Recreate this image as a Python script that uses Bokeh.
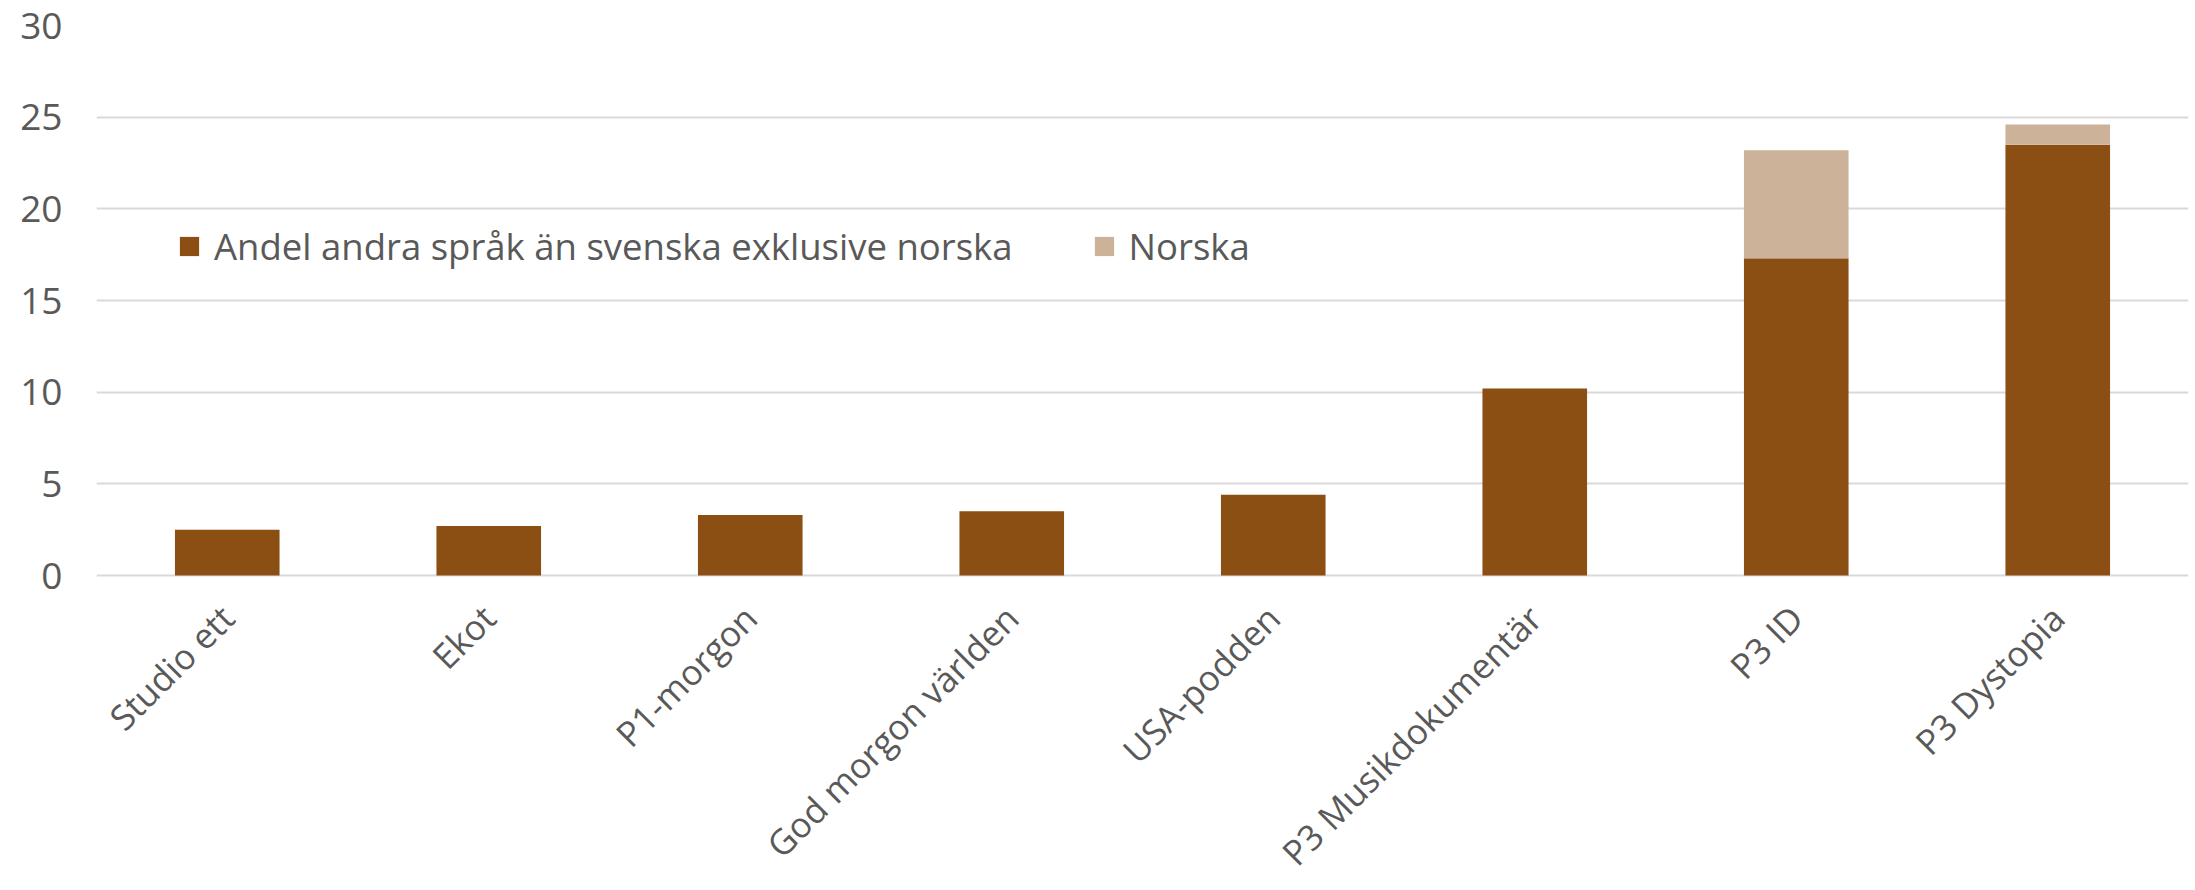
import math

from bokeh.plotting import figure
from bokeh.models import (ColumnDataSource, FactorRange, Range1d, FixedTicker,
                          LabelSet, CanvasTexture)
from bokeh.core.properties import value
from bokeh.embed import file_html
from bokeh.resources import INLINE

# ---- data ----
programs = ["Studio ett", "Ekot", "P1-morgon", "God morgon världen", "USA-podden",
            "P3 Musikdokumentär", "P3 ID", "P3 Dystopia"]
other_languages = [2.5, 2.7, 3.3, 3.5, 4.4, 10.2, 17.3, 23.5]
norwegian = [0.0, 0.0, 0.0, 0.0, 0.0, 0.0, 5.9, 1.1]
series_names = ["Andel andra språk än svenska exklusive norska", "Norska"]
y_ticks = [0, 5, 10, 15, 20, 25, 30]

BROWN = "#8B4E13"
TEXT = "#595959"
GRID = "#D9D9D9"
FONT = "Open Sans"

# layout: value axis 0..30 spans 550 px; the frame continues 315 px below 0
# so that the rotated category labels can sit inside it
Y_MAX = 30
Y_MIN = -Y_MAX * 315 / 550

totals = [a + b for a, b in zip(other_languages, norwegian)]
source = ColumnDataSource(dict(program=programs, other=other_languages,
                               norsk=norwegian, total=totals,
                               zero=[0] * len(programs),
                               hatch=["checker"] * len(programs)))

p = figure(x_range=FactorRange(*programs, range_padding=0),
           y_range=Range1d(Y_MIN, Y_MAX),
           width=2195, height=890,
           min_border_left=96, min_border_right=7,
           min_border_top=25, min_border_bottom=0,
           output_backend="svg", toolbar_location=None,
           background_fill_color="white", border_fill_color="white")
p.outline_line_color = None

checker = CanvasTexture(code=(
    "ctx.fillStyle = '%s';"
    "var h = scale / 2;"
    "ctx.fillRect(0, 0, h, h);"
    "ctx.fillRect(h, h, h, h);" % BROWN
))

p.vbar(x="program", bottom=0, top="other", width=0.4, source=source,
       fill_color=BROWN, line_color=None, legend_label=series_names[0])
p.vbar(x="program", bottom="other", top="total", width=0.4, source=source,
       fill_color="white", line_color=None,
       hatch_pattern="hatch", hatch_extra={"checker": checker},
       hatch_color=BROWN, hatch_scale=8,
       legend_label=series_names[1])

# y axis
p.yaxis.ticker = FixedTicker(ticks=y_ticks)
p.yaxis.axis_line_color = None
p.yaxis.major_tick_line_color = None
p.yaxis.minor_tick_line_color = None
p.yaxis.major_tick_out = 0
p.yaxis.major_tick_in = 0
p.yaxis.minor_tick_out = 0
p.yaxis.major_label_standoff = 34
p.yaxis.major_label_text_font = FONT
p.yaxis.major_label_text_font_size = "37px"
p.yaxis.major_label_text_color = TEXT

p.ygrid.ticker = FixedTicker(ticks=y_ticks)
p.ygrid.grid_line_color = GRID
p.ygrid.grid_line_width = 2
p.xgrid.grid_line_color = None
p.xaxis.visible = False

# rotated category labels
labels = LabelSet(x="program", y="zero", text="program", source=source,
                  angle=math.pi / 4, text_align="right", text_baseline="middle",
                  x_offset=0, y_offset=-36,
                  text_font=value(FONT), text_font_size=value("35px"),
                  text_color=TEXT)
p.add_layout(labels)

# legend
lg = p.legend[0]
lg.orientation = "horizontal"
lg.location = (81, 304 + 315)
lg.padding = 0
lg.margin = 0
lg.spacing = 79
lg.label_standoff = 13
lg.glyph_width = 24
lg.glyph_height = 24
lg.label_height = 24
lg.label_text_font = FONT
lg.label_text_font_size = "36.5px"
lg.label_text_color = TEXT
lg.background_fill_alpha = 0
lg.border_line_color = None

open("out.html", "w").write(file_html(p, INLINE))
